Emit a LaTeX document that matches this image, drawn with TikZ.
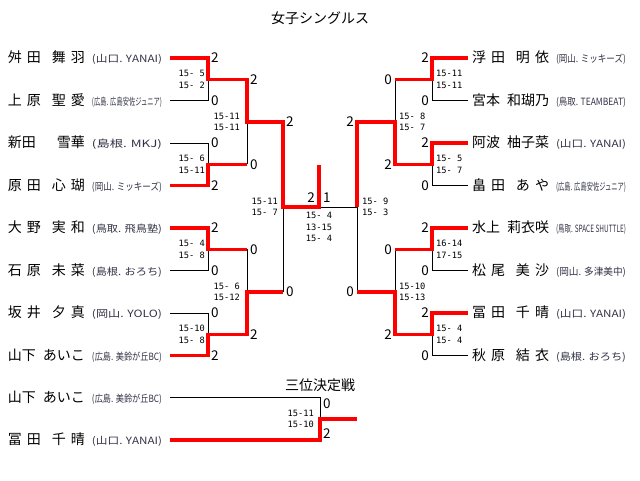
\documentclass[tikz,border=0pt]{standalone}
\usepackage{fontspec}
\usepackage{graphicx}
\setmainfont{Noto Sans CJK JP}
\newfontfamily\scfont{DejaVu Sans Mono}
\definecolor{winred}{RGB}{255,0,0}
\definecolor{affgray}{RGB}{50,50,70}

\newcommand{\sei}[1]{\makebox[33pt][s]{#1}}
\newcommand{\mei}[1]{\makebox[44pt][r]{#1}}
\newcommand{\meisp}[2]{\makebox[44pt][r]{\makebox[33pt][s]{#1\hfil #2}}}
\newcommand{\aff}[1]{\hspace{7pt}{\color{affgray}\resizebox{70pt}{\height}{\fontsize{10}{10}\selectfont #1}}}

\begin{document}
\begin{tikzpicture}[x=1pt, y=-1pt,
  pl/.style={anchor=west, inner sep=0pt, outer xsep=8pt, font=\fontsize{14}{14}\selectfont},
  pr/.style={anchor=west, inner sep=0pt, outer xsep=4pt, font=\fontsize{14}{14}\selectfont},
  pt/.style={inner xsep=3pt, inner ysep=1pt, font=\fontsize{13.5}{13.5}\selectfont},
  sc/.style={align=left, inner sep=1pt, font=\scfont\fontsize{8.7}{11.5}\selectfont},
  ttl/.style={font=\fontsize{14}{14}\selectfont},
  win/.style={draw=winred, line width=3.2pt},
  lose/.style={draw=black, line width=0.9pt}]
  \useasboundingbox (0,0) rectangle (640,481);

  \node[ttl] (title) at (320,18) {女子シングルス};

  \node[pl] (l1) at (0,58) {\sei{舛\hfil 田}\meisp{舞}{羽}\aff{(山口. YANAI)}};
  \node[pl] (l2) at (0,100.5) {\sei{上\hfil 原}\meisp{聖}{愛}\aff{(広島. 広島安佐ジュニア)}};
  \node[pl] (l3) at (0,143) {\sei{新田\hfil}\mei{雪華}\aff{(島根. MKJ)}};
  \node[pl] (l4) at (0,185.5) {\sei{原\hfil 田}\meisp{心}{瑚}\aff{(岡山. ミッキーズ)}};
  \node[pl] (l5) at (0,228) {\sei{大\hfil 野}\meisp{実}{和}\aff{(鳥取. 飛鳥塾)}};
  \node[pl] (l6) at (0,270.5) {\sei{石\hfil 原}\meisp{未}{菜}\aff{(島根. おろち)}};
  \node[pl] (l7) at (0,313) {\sei{坂\hfil 井}\meisp{夕}{真}\aff{(岡山. YOLO)}};
  \node[pl] (l8) at (0,355.5) {\sei{山下\hfil}\mei{あいこ}\aff{(広島. 美鈴が丘BC)}};

  \node[pr] (r1) at (468,58) {\sei{浮\hfil 田}\meisp{明}{依}\aff{(岡山. ミッキーズ)}};
  \node[pr] (r2) at (468,100.5) {\sei{宮本\hfil}\mei{和瑚乃}\aff{(鳥取. TEAMBEAT)}};
  \node[pr] (r3) at (468,143) {\sei{阿波\hfil}\mei{柚子菜}\aff{(山口. YANAI)}};
  \node[pr] (r4) at (468,185.5) {\sei{畠\hfil 田}\meisp{あ}{や}\aff{(広島. 広島安佐ジュニア)}};
  \node[pr] (r5) at (468,228) {\sei{水上\hfil}\mei{莉衣咲}\aff{(鳥取. SPACE SHUTTLE)}};
  \node[pr] (r6) at (468,270.5) {\sei{松\hfil 尾}\meisp{美}{沙}\aff{(岡山. 多津美中)}};
  \node[pr] (r7) at (468,313) {\sei{冨\hfil 田}\meisp{千}{晴}\aff{(山口. YANAI)}};
  \node[pr] (r8) at (468,355.5) {\sei{秋\hfil 原}\meisp{結}{衣}\aff{(島根. おろち)}};

  \node[ttl] (third) at (320,385) {三位決定戦};
  \node[pl] (t1) at (0,397.5) {\sei{山下\hfil}\mei{あいこ}\aff{(広島. 美鈴が丘BC)}};
  \node[pl] (t2) at (0,440) {\sei{冨\hfil 田}\meisp{千}{晴}\aff{(山口. YANAI)}};

  \coordinate (lq1) at (208,79.5);
  \coordinate (lq2) at (208,164.5);
  \coordinate (lq3) at (208,249.5);
  \coordinate (lq4) at (208,334.5);
  \coordinate (ls1) at (247,122);
  \coordinate (ls2) at (247,292);
  \coordinate (lf) at (283,207);
  \coordinate (fc) at (319,207);
  \coordinate (ft) at (319,165);
  \coordinate (rf) at (357,207);
  \coordinate (rs1) at (395,122);
  \coordinate (rs2) at (395,292);
  \coordinate (rq1) at (432,79.5);
  \coordinate (rq2) at (432,164.5);
  \coordinate (rq3) at (432,249.5);
  \coordinate (rq4) at (432,334.5);
  \coordinate (tq) at (320,419);
  \coordinate (te) at (357,419);

  \draw[lose] (l2.east) -| (lq1);
  \draw[lose] (l3.east) -| (lq2);
  \draw[lose] (l6.east) -| (lq3);
  \draw[lose] (l7.east) -| (lq4);
  \draw[lose] (ls1) -- (ls1 |- lq2);
  \draw[lose] (ls2) -- (ls2 |- lq3);
  \draw[lose] (lf) -- (lf |- ls2);
  \draw[lose] (fc) -- (rf) -- (rf |- rs2);
  \draw[lose] (rs1) -- (rs1 |- rq1);
  \draw[lose] (rs2) -- (rs2 |- rq3);
  \draw[lose] (r2.west) -| (rq1);
  \draw[lose] (r4.west) -| (rq2);
  \draw[lose] (r6.west) -| (rq3);
  \draw[lose] (r8.west) -| (rq4);
  \draw[lose] (t1.east) -| (tq);

  \draw[win] (l1.east) -| (lq1) -| (ls1) -| (lf) -- (fc) -- (ft);
  \draw[win] (l4.east) -| (lq2) -- (lq2 -| ls1);
  \draw[win] (l5.east) -| (lq3) -- (lq3 -| ls2);
  \draw[win] (l8.east) -| (lq4) -| (ls2) -- (ls2 -| lf);
  \draw[win] (r1.west) -| (rq1) -- (rq1 -| rs1);
  \draw[win] (r3.west) -| (rq2) -| (rs1) -| (rf);
  \draw[win] (r5.west) -| (rq3) -- (rq3 -| rs2);
  \draw[win] (r7.west) -| (rq4) -| (rs2) -- (rs2 -| rf);
  \draw[win] (t2.east) -| (tq) -- (te);

  \node[pt, right] (a1) at (lq1 |- l1) {2};
  \node[pt, right] (a2) at (lq1 |- l2) {0};
  \node[pt, right] (a3) at (lq2 |- l3) {0};
  \node[pt, right] (a4) at (lq2 |- l4) {2};
  \node[pt, right] (a5) at (lq3 |- l5) {2};
  \node[pt, right] (a6) at (lq3 |- l6) {0};
  \node[pt, right] (a7) at (lq4 |- l7) {0};
  \node[pt, right] (a8) at (lq4 |- l8) {2};
  \node[pt, right] (b1) at (ls1 |- lq1) {2};
  \node[pt, right] (b2) at (ls1 |- lq2) {0};
  \node[pt, right] (b3) at (ls2 |- lq3) {0};
  \node[pt, right] (b4) at (ls2 |- lq4) {2};
  \node[pt, right] (c1) at (lf |- ls1) {2};
  \node[pt, right] (c2) at (lf |- ls2) {0};
  \node[pt, above left, inner sep=4pt] (f1) at (fc) {2};
  \node[pt, above right, inner sep=4pt] (f2) at (fc) {1};
  \node[pt, left] (d1) at (rf |- rs1) {2};
  \node[pt, left] (d2) at (rf |- rs2) {0};
  \node[pt, left] (e1) at (rs1 |- rq1) {0};
  \node[pt, left] (e2) at (rs1 |- rq2) {2};
  \node[pt, left] (e3) at (rs2 |- rq3) {0};
  \node[pt, left] (e4) at (rs2 |- rq4) {2};
  \node[pt, left] (g1) at (rq1 |- r1) {2};
  \node[pt, left] (g2) at (rq1 |- r2) {0};
  \node[pt, left] (g3) at (rq2 |- r3) {2};
  \node[pt, left] (g4) at (rq2 |- r4) {0};
  \node[pt, left] (g5) at (rq3 |- r5) {2};
  \node[pt, left] (g6) at (rq3 |- r6) {0};
  \node[pt, left] (g7) at (rq4 |- r7) {2};
  \node[pt, left] (g8) at (rq4 |- r8) {0};
  \node[pt, below right] (h1) at (tq |- t1) {0};
  \node[pt, above right] (h2) at (tq |- t2) {2};

  \node[sc, left=2pt] (m1) at (lq1) {15-~5\\15-~2};
  \node[sc, left=2pt] (m2) at (lq2) {15-~6\\15-11};
  \node[sc, left=2pt] (m3) at (lq3) {15-~4\\15-~8};
  \node[sc, left=2pt] (m4) at (lq4) {15-10\\15-~8};
  \node[sc, left=6pt] (m5) at (ls1) {15-11\\15-11};
  \node[sc, left=6pt] (m6) at (ls2) {15-~6\\15-12};
  \node[sc, left=4pt] (m7) at (lf) {15-11\\15-~7};
  \node[sc, below=4pt] (m8) at (fc) {15-~4\\13-15\\15-~4};
  \node[sc, right=4pt] (m9) at (rf) {15-~9\\15-~3};
  \node[sc, right=3pt] (m10) at (rs1) {15-~8\\15-~7};
  \node[sc, right=3pt] (m11) at (rs2) {15-10\\15-13};
  \node[sc, right=3pt] (m12) at (rq1) {15-11\\15-11};
  \node[sc, right=3pt] (m13) at (rq2) {15-~5\\15-~7};
  \node[sc, right=3pt] (m14) at (rq3) {16-14\\17-15};
  \node[sc, right=3pt] (m15) at (rq4) {15-~4\\15-~4};
  \node[sc, left=5pt] (m16) at (tq) {15-11\\15-10};
\end{tikzpicture}
\end{document}
